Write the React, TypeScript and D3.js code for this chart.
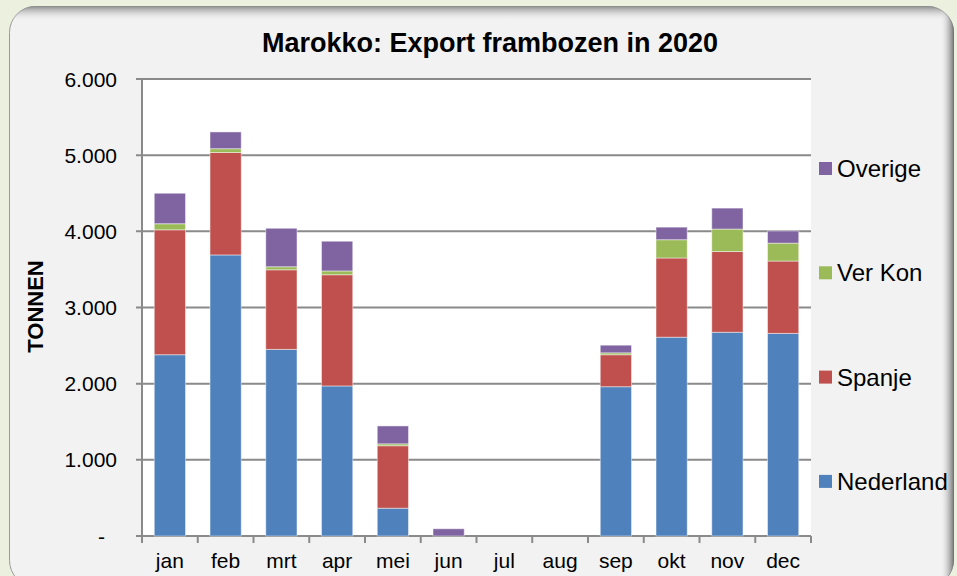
import React, { useEffect, useRef } from 'react';
import * as d3 from 'd3';

const months = ['jan', 'feb', 'mrt', 'apr', 'mei', 'jun', 'jul', 'aug', 'sep', 'okt', 'nov', 'dec'];
const nederland = [2380, 3690, 2450, 1970, 365, 0, 0, 0, 1960, 2610, 2675, 2660];
const spanje = [1640, 1345, 1045, 1460, 820, 0, 0, 0, 420, 1040, 1060, 950];
const verKon = [80, 50, 40, 50, 25, 0, 0, 0, 25, 240, 295, 235];
const overige = [400, 220, 505, 390, 235, 95, 0, 0, 100, 165, 275, 160];
const seriesNames = ['Nederland', 'Spanje', 'Ver Kon', 'Overige'];
const seriesColors = ['#4F81BD', '#C0504D', '#9BBB59', '#8064A2'];
const yTicks = [0, 1000, 2000, 3000, 4000, 5000, 6000];

const FONT = '"Liberation Sans", Arial, sans-serif';

export default function App() {
  const ref = useRef<SVGSVGElement>(null);

  useEffect(() => {
    const W = 957;
    const H = 576;
    const svg = d3.select(ref.current);
    svg.selectAll('*').remove();

    const plot = { left: 142, top: 79, right: 811, bottom: 536 };

    const rows = months.map((m, i) => ({
      month: m,
      Nederland: nederland[i],
      Spanje: spanje[i],
      'Ver Kon': verKon[i],
      Overige: overige[i],
    }));
    const stacked = d3.stack<any>().keys(seriesNames)(rows);

    const x = d3
      .scaleBand()
      .domain(months)
      .range([plot.left, plot.right])
      .paddingInner(0.44)
      .paddingOuter(0.22);
    const y = d3.scaleLinear().domain([0, 6000]).range([plot.bottom, plot.top]);
    const color = d3.scaleOrdinal<string>().domain(seriesNames).range(seriesColors);
    const nl = d3.formatLocale({ decimal: ',', thousands: '.', grouping: [3], currency: ['', ''] });
    const fmt = nl.format(',.0f');

    const defs = svg.append('defs');
    const clip = defs.append('clipPath').attr('id', 'cardClip');
    clip.append('rect').attr('x', 9).attr('y', 6).attr('width', 945).attr('height', 580).attr('rx', 26);
    const topGrad = defs.append('linearGradient').attr('id', 'topGrad').attr('x1', 0).attr('y1', 0).attr('x2', 0).attr('y2', 1);
    topGrad.append('stop').attr('offset', '0%').attr('stop-color', '#8a8a8a').attr('stop-opacity', 1);
    topGrad.append('stop').attr('offset', '100%').attr('stop-color', '#f2f2f2').attr('stop-opacity', 0);
    const rightGrad = defs.append('linearGradient').attr('id', 'rightGrad').attr('x1', 0).attr('y1', 0).attr('x2', 1).attr('y2', 0);
    rightGrad.append('stop').attr('offset', '0%').attr('stop-color', '#f2f2f2').attr('stop-opacity', 0);
    rightGrad.append('stop').attr('offset', '100%').attr('stop-color', '#6f6f6f').attr('stop-opacity', 1);

    // page background + card
    svg.append('rect').attr('width', W).attr('height', H).attr('fill', '#EBF1DE');
    svg
      .append('rect')
      .attr('x', 9.5)
      .attr('y', 6.5)
      .attr('width', 944)
      .attr('height', 580)
      .attr('rx', 26)
      .attr('fill', '#F2F2F2')
      .attr('stroke', '#9a9a9a');
    const shade = svg.append('g').attr('clip-path', 'url(#cardClip)');
    shade.append('rect').attr('x', 9).attr('y', 6).attr('width', 945).attr('height', 15).attr('fill', 'url(#topGrad)');
    shade.append('rect').attr('x', 940).attr('y', 6).attr('width', 14).attr('height', 580).attr('fill', 'url(#rightGrad)');

    // plot area
    svg
      .append('rect')
      .attr('x', plot.left)
      .attr('y', plot.top)
      .attr('width', plot.right - plot.left)
      .attr('height', plot.bottom - plot.top)
      .attr('fill', '#ffffff');

    // gridlines
    svg
      .append('g')
      .selectAll('line')
      .data(yTicks)
      .join('line')
      .attr('x1', plot.left - 6)
      .attr('x2', plot.right)
      .attr('y1', (d) => y(d))
      .attr('y2', (d) => y(d))
      .attr('stroke', '#8a8a8a')
      .attr('stroke-width', 2);

    // bars
    svg
      .append('g')
      .selectAll('g')
      .data(stacked)
      .join('g')
      .attr('fill', (s) => color(s.key))
      .selectAll('rect')
      .data((s) => s.filter((d) => d[1] - d[0] > 0))
      .join('rect')
      .attr('x', (d: any) => x(d.data.month) as number)
      .attr('width', x.bandwidth())
      .attr('y', (d) => y(d[1]))
      .attr('height', (d) => y(d[0]) - y(d[1]))
      .attr('stroke', 'rgba(255,255,255,0.45)')
      .attr('stroke-width', 1);

    // axes lines
    svg
      .append('line')
      .attr('x1', plot.left)
      .attr('x2', plot.left)
      .attr('y1', plot.top)
      .attr('y2', plot.bottom + 7)
      .attr('stroke', '#8a8a8a')
      .attr('stroke-width', 2);
    const boundaries = d3.range(months.length + 1).map((i) => plot.left + i * x.step());
    svg
      .append('g')
      .selectAll('line')
      .data(boundaries)
      .join('line')
      .attr('x1', (d) => d)
      .attr('x2', (d) => d)
      .attr('y1', plot.bottom)
      .attr('y2', plot.bottom + 7)
      .attr('stroke', '#8a8a8a')
      .attr('stroke-width', 2);

    // y labels
    svg
      .append('g')
      .selectAll('text')
      .data(yTicks)
      .join('text')
      .attr('x', (d) => (d === 0 ? 105 : 117))
      .attr('y', (d) => y(d) + 7.5)
      .attr('text-anchor', 'end')
      .style('font-family', FONT)
      .style('font-size', '21px')
      .attr('fill', '#000')
      .text((d) => (d === 0 ? '-' : fmt(d)));

    // x labels
    svg
      .append('g')
      .selectAll('text')
      .data(months)
      .join('text')
      .attr('x', (d) => (x(d) as number) + x.bandwidth() / 2)
      .attr('y', 568)
      .attr('text-anchor', 'middle')
      .style('font-family', FONT)
      .style('font-size', '21px')
      .attr('fill', '#000')
      .text((d) => d);

    // title
    svg
      .append('text')
      .attr('x', 490)
      .attr('y', 52)
      .attr('text-anchor', 'middle')
      .style('font-family', FONT)
      .style('font-size', '27px')
      .style('font-weight', 'bold')
      .text('Marokko: Export frambozen in 2020');

    // axis title
    svg
      .append('text')
      .attr('transform', 'translate(43,306.5) rotate(-90)')
      .attr('text-anchor', 'middle')
      .style('font-family', FONT)
      .style('font-size', '22px')
      .style('font-weight', 'bold')
      .text('TONNEN');

    // legend
    const legendOrder = seriesNames.slice().reverse();
    const leg = svg
      .append('g')
      .selectAll('g')
      .data(legendOrder)
      .join('g')
      .attr('transform', (d, i) => `translate(819,${168.5 + i * 104.3})`);
    leg
      .append('rect')
      .attr('x', 0)
      .attr('y', -6.5)
      .attr('width', 13)
      .attr('height', 13)
      .attr('fill', (d) => color(d));
    leg
      .append('text')
      .attr('x', 18)
      .attr('y', 8.5)
      .style('font-family', FONT)
      .style('font-size', '24px')
      .text((d) => d);
  }, []);

  return (
    <div style={{ position: 'absolute', left: 0, top: 0 }}>
      <svg ref={ref} width={957} height={576} style={{ display: 'block' }} />
    </div>
  );
}
